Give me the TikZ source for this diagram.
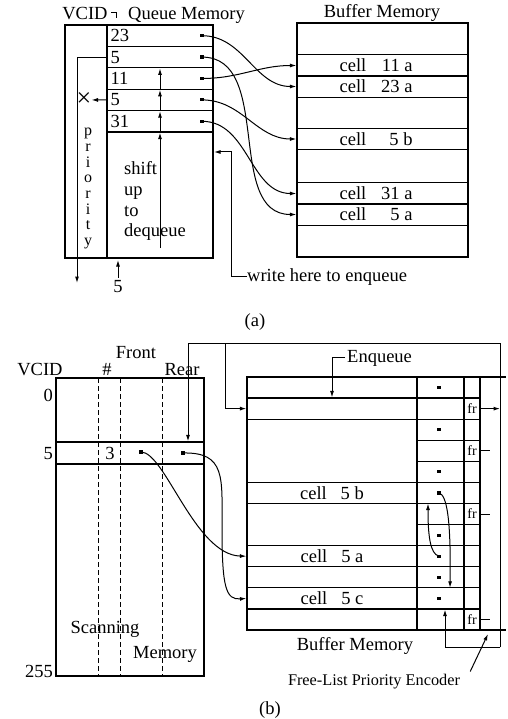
\documentclass[tikz,border=0pt]{standalone}
\usepackage{fontspec}
\setmainfont{Liberation Serif}
\usetikzlibrary{arrows.meta,positioning,calc}

\begin{document}
\begin{tikzpicture}[
  x=1pt, y=-1pt,
  memline/.style={line width=1.2pt},
  wire/.style={line width=1pt},
  lbl/.style={font=\fontsize{18.5}{21}\selectfont, inner sep=0pt},
  smalltxt/.style={font=\fontsize{16.3}{19}\selectfont, inner sep=0pt},
  frl/.style={font=\fontsize{14}{16}\selectfont, inner sep=0pt, minimum width=16pt},
  qrow/.style={draw, line width=1.2pt, minimum width=106pt, minimum height=21.4pt, inner sep=0pt},
  bcell/.style={draw, line width=1.2pt, minimum width=171pt, minimum height=21.3pt, inner sep=0pt},
  scell/.style={draw, line width=1.2pt, minimum width=170pt, minimum height=21.08pt, inner sep=0pt,
    font=\fontsize{18.5}{21}\selectfont},
  pdot/.style={fill, inner sep=0pt, minimum size=3.2pt},
  ptr/.style={-{Latex[length=6.5pt,width=4pt]}, line width=1pt},
  scan/.style={dash pattern=on 5pt off 3pt, line width=1pt}
]
\useasboundingbox (0,0) rectangle (507,719);

% (a) queue memory
\draw[memline] (65,25) rectangle (213,258);
\draw[memline] (107,25) -- (107,258);
\foreach \lab [count=\k] in {23,5,11,5,31}{
  \node[qrow] (q\k) at (160,{25+21.4*(\k-0.5)}) {};
  \node[lbl, right=4pt of q\k.west] {\lab};
  \node[pdot] (qd\k) at (202,{25+21.4*(\k-0.5)}) {};
}
\node[lbl, anchor=base] (vcida) at (85,20) {VCID};
\draw[wire] (111,12.5) -- (116,12.5) -- (116,18.5);
\node[lbl, anchor=base west] (qmem) at (128,20) {Queue Memory};
\node[lbl, align=center, font=\fontsize{16}{15.7}\selectfont, anchor=north] (prio) at (88,128)
  {p\\r\\i\\o\\r\\i\\t\\y};
\foreach \w [count=\k] in {shift,up,to,dequeue}
  \node[lbl, anchor=base west] at (124,{154+20.7*\k}) {\w};

\coordinate (shb) at (160,248);
\draw[ptr] (shb) -- (q5.south);
\foreach \a/\b in {5/4,4/3,3/2} \draw[ptr] (q\a.south) -- (q\b.south);

\coordinate (deq) at (77,283);
\draw[ptr] (q2.west) -| (deq);
\node[lbl, font=\fontsize{26}{26}\selectfont] (xm) at (84,100) {×};
\draw[ptr] (q4.west) -- (xm);
\node[lbl, anchor=base] (qin) at (118,292) {5};
\coordinate (qbot) at (118,260);
\draw[ptr] ([yshift=2pt]qin.north) -- (qbot);

\node[lbl, anchor=base west] (wr) at (247,281) {write here to enqueue};
\coordinate (enqa) at (214,152);
\draw[ptr] (wr.west) -- ++(-16,0) |- (enqa);

% (a) buffer memory
\draw[memline] (297,23) rectangle (468,257);
\node[lbl, anchor=base] at (382,18) {Buffer Memory};
\foreach \nm/\yy/\txt in {c11a/65.5/11 a,c23a/86.5/23 a,c5b/139/5 b,c31a/193.5/31 a,c5a/214.5/5 a}{
  \node[bcell] (\nm) at (382.5,\yy) {};
  \node[lbl, right=43pt of \nm.west] {cell\hspace{0.8em}\makebox[1.7em][r]{\txt}};
}
\draw[ptr] (qd1.center) to[out=0,in=180] (c23a.west);
\draw[ptr] (qd2.center) to[out=0,in=180] (c5a.west);
\draw[ptr] (qd3.center) to[out=0,in=180] (c11a.west);
\draw[ptr] (qd4.center) to[out=0,in=180] (c5b.west);
\draw[ptr] (qd5.center) to[out=0,in=180] (c31a.west);

\node[lbl] (capa) at (255,322) {(a)};

% (b) scanning memory
\draw[memline] (56,378) rectangle (204,676);
\foreach \xx in {98,120,162} \draw[scan] (\xx,378) -- (\xx,676);
\node[draw, line width=1.2pt, minimum width=148pt, minimum height=22pt, inner sep=0pt] (s5) at (130,453) {};
\node[lbl, anchor=base] at (40,375) {VCID};
\node[lbl, anchor=base] at (107,375) {\#};
\node[lbl, anchor=base] at (136,358) {Front};
\node[lbl, anchor=base] at (182,375) {Rear};
\node[lbl, anchor=base east] at (53,401) {0};
\node[lbl, anchor=base east] at (53,459) {5};
\node[lbl, anchor=base east] at (53,677) {255};
\node[lbl] at (110,453) {3};
\node[pdot] (fd) at (141,452) {};
\node[pdot] (rd) at (183,453) {};
\node[lbl, anchor=base] at (105,633) {Scanning};
\node[lbl, anchor=base] at (165,658) {Memory};

% (b) buffer memory
\draw[memline] (247,377) rectangle (480,630);
\draw[memline] (480,377) -- (506,377) (480,630) -- (506,630);
\draw[memline] (417,377) -- (417,630) (464,377) -- (464,630);
\foreach \i in {1,...,11} \draw[memline] (417,{377+21.0833*\i}) -- (480,{377+21.0833*\i});
\node[scell] (e1) at (332,408.6) {};
\node[scell] (cb) at (332,493) {cell\hspace{0.75em}5 b};
\node[scell] (ca) at (332,556.2) {cell\hspace{0.75em}5 a};
\node[scell] (cc) at (332,598.4) {cell\hspace{0.75em}5 c};
\foreach \k in {0,2,4,5,7,8,9,10}
  \node[pdot] (p\k) at (439,{377+21.0833*(\k+0.5)}) {};
\foreach \k in {1,3,6,11}
  \node[frl] (fr\k) at (472,{377+21.0833*(\k+0.5)}) {fr};
\foreach \k in {3,6,11} \draw[wire] (fr\k.east) -- ++(10,0);

\coordinate (tl) at (188,343);
\coordinate (tb) at (225,343);
\coordinate (tr) at (500,343);
\coordinate (br) at (500,647);
\coordinate (encout) at (445,609.6);
\draw[ptr] (br) -- (tr) -- (tl) -- (tl |- s5.north);
\draw[ptr] (br) -| (encout);
\draw[ptr] (tb) |- (e1.west);
\draw[ptr] (fr1.east) -- (fr1.east -| tr);

\node[lbl, anchor=base west, inner sep=2pt] (enqt) at (345,362) {Enqueue};
\draw[ptr] (enqt.west) -| (e1.north);

\draw[ptr] (fd.center) .. controls (165,452) and (195,555) .. (ca.west);
\draw[ptr] (rd.center) .. controls (226,452) and (222,478) .. (222,528)
  .. controls (222,588) and (226,600) .. (cc.west);
\coordinate (t5c) at (450,587.8);
\coordinate (t5b) at (428,503.5);
\draw[ptr] (p5.center) .. controls (447,495) and (451,520) .. (t5c);
\draw[ptr] (p8.center) .. controls (430,554) and (428,535) .. (t5b);

\node[lbl, anchor=base] at (355,650) {Buffer Memory};
\node[smalltxt, anchor=base] (fle) at (374,685) {Free-List Priority Encoder};
\coordinate (encin) at (488,634);
\draw[ptr] ([xshift=10pt,yshift=2pt]fle.north east) -- (encin);
\node[lbl] (capb) at (270,710) {(b)};
\end{tikzpicture}
\end{document}
